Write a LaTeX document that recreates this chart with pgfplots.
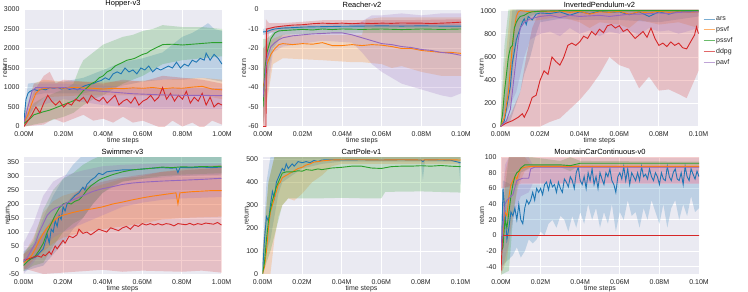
\documentclass[border=0pt]{standalone}
\usepackage{fontspec}
\setmainfont{Liberation Sans}
\usepackage{pgfplots}
\pgfplotsset{compat=1.18}
\usepgfplotslibrary{fillbetween}
\definecolor{cars}{HTML}{1F77B4}
\definecolor{cpsvf}{HTML}{FF7F0E}
\definecolor{cpssvf}{HTML}{2CA02C}
\definecolor{cddpg}{HTML}{D62728}
\definecolor{cpavf}{HTML}{9467BD}
\definecolor{bgc}{HTML}{EAEAF2}
\definecolor{txt}{HTML}{262626}
\newcommand{\band}[4]{%
  \addplot[draw=none, forget plot, name path=u#2] coordinates {#3};
  \addplot[draw=none, forget plot, name path=l#2] coordinates {#4};
  \addplot[fill=#1, fill opacity=0.22, draw=none, forget plot] fill between[of=u#2 and l#2];
}
\pgfplotsset{
  sb/.style={
    set layers,
    scale only axis, width=198pt, height=117pt, anchor=north west,
    axis background/.style={fill=bgc},
    axis line style={draw=none},
    tick style={draw=none},
    grid=major, major grid style={white, line width=0.9pt},
    tick label style={font=\fontsize{7}{8}\selectfont, text=txt},
    yticklabel style={xshift=-1pt},
    xticklabel style={yshift=-1.8pt},
    /pgf/number format/assume math mode=true,
    /pgf/number format/1000 sep={},
    every axis title/.style={font=\fontsize{7.5}{9}\selectfont, text=black, at={(axis description cs:0.5,1)}, anchor=south, inner sep=2pt},
    xlabel={time steps}, ylabel={return},
    label style={font=\fontsize{7}{8}\selectfont, text=txt},
    xlabel style={at={(axis description cs:0.5,0)}, anchor=north, inner sep=0pt, yshift=-11pt},
    ylabel style={at={(axis description cs:0,0.5)}, anchor=south, inner sep=0pt, yshift=16.5pt},
    clip=true,
  },
  big/.style={xmin=0, xmax=1, xtick={0,0.2,0.4,0.6,0.8,1}, xticklabels={0.00M,0.20M,0.40M,0.60M,0.80M,1.00M}},
  small/.style={xmin=0, xmax=0.1, xtick={0,0.02,0.04,0.06,0.08,0.1}, xticklabels={0.00M,0.02M,0.04M,0.06M,0.08M,0.10M}},
  ln/.style={line width=0.9pt, #1},
}
\begin{document}
\begin{tikzpicture}
%================ Hopper
\begin{axis}[sb, big, at={(24pt,-9.5pt)}, title={Hopper-v3}, ymin=0, ymax=3000, ytick={0,500,1000,1500,2000,2500,3000}]
\band{cars}{ha}{(0,300)(0.02,1100)(0.1,1150)(0.2,1150)(0.3,1250)(0.4,1450)(0.5,1650)(0.6,1750)(0.7,1900)(0.75,2100)(0.8,2300)(0.85,2400)(0.9,2550)(0.93,2650)(0.96,2500)(1.0,2450)}{(0,0)(0.02,500)(0.05,800)(0.1,850)(0.2,850)(0.3,850)(0.4,950)(0.5,1050)(0.6,1150)(0.7,1200)(0.8,1200)(0.9,1250)(1.0,1150)}
\band{cpsvf}{hb}{(0,300)(0.05,1100)(0.1,1200)(0.2,1150)(0.3,1150)(0.5,1150)(0.7,1200)(0.9,1250)(1.0,1200)}{(0,0)(0.05,500)(0.1,750)(0.3,800)(0.5,800)(0.7,780)(0.9,800)(1.0,700)}
\band{cpssvf}{hc}{(0,200)(0.05,600)(0.1,750)(0.2,950)(0.25,1100)(0.28,1500)(0.3,1700)(0.35,1900)(0.4,2100)(0.45,2200)(0.5,2300)(0.55,2350)(0.6,2450)(0.65,2500)(0.7,2600)(0.8,2550)(0.9,2550)(1.0,2500)}{(0,0)(0.1,100)(0.2,250)(0.25,350)(0.3,550)(0.35,700)(0.4,800)(0.5,1100)(0.6,1300)(0.7,1600)(0.8,1700)(0.9,1750)(1.0,1800)}
\band{cddpg}{hd}{(0,100)(0.05,900)(0.1,1300)(0.13,1400)(0.16,1100)(0.2,1200)(0.3,1150)(0.4,1100)(0.5,1200)(0.6,1150)(0.7,1300)(0.8,1250)(0.9,1200)(1.0,1100)}{(0,0)(0.1,50)(0.15,200)(0.2,100)(0.25,200)(0.3,300)(0.35,150)(0.4,200)(0.45,100)(0.5,250)(0.55,100)(0.6,150)(0.65,50)(0.7,-50)(0.75,150)(0.8,0)(0.85,100)(0.9,-50)(0.95,150)(1.0,50)}
\band{cpavf}{he}{(0,200)(0.05,1100)(0.2,1100)(0.4,1050)(0.6,1000)(0.8,1000)(1.0,1000)}{(0,0)(0.05,500)(0.2,700)(0.4,550)(0.6,450)(0.8,450)(1.0,450)}
\addplot[ln=cars] coordinates {(0,150)(0.01,700)(0.02,850)(0.03,900)(0.05,950)(0.07,920)(0.09,960)(0.11,940)(0.13,1000)(0.15,980)(0.17,1000)(0.19,960)(0.21,1000)(0.23,950)(0.25,980)(0.27,940)(0.29,1000)(0.31,1050)(0.33,1080)(0.35,1100)(0.37,1150)(0.39,1180)(0.41,1250)(0.43,1200)(0.45,1350)(0.47,1400)(0.49,1350)(0.51,1500)(0.53,1400)(0.55,1450)(0.57,1350)(0.59,1500)(0.61,1450)(0.63,1550)(0.65,1400)(0.67,1500)(0.69,1450)(0.71,1500)(0.73,1550)(0.75,1500)(0.77,1650)(0.79,1500)(0.81,1600)(0.83,1550)(0.85,1700)(0.87,1650)(0.89,1750)(0.91,1700)(0.92,1880)(0.94,1700)(0.96,1850)(0.98,1750)(1.0,1600)};
\addplot[ln=cpsvf] coordinates {(0,100)(0.02,300)(0.04,600)(0.06,850)(0.08,950)(0.1,970)(0.13,990)(0.16,1000)(0.2,980)(0.25,1000)(0.3,990)(0.35,980)(0.4,960)(0.45,980)(0.5,970)(0.55,990)(0.6,980)(0.65,1000)(0.7,970)(0.75,990)(0.8,980)(0.85,1010)(0.9,1030)(0.95,960)(1.0,940)};
\addplot[ln=cpssvf] coordinates {(0,80)(0.03,200)(0.05,300)(0.08,350)(0.1,380)(0.13,420)(0.15,460)(0.18,520)(0.2,560)(0.23,620)(0.26,680)(0.28,800)(0.3,920)(0.32,1000)(0.34,1100)(0.36,1150)(0.38,1250)(0.4,1300)(0.42,1400)(0.44,1450)(0.46,1550)(0.48,1600)(0.5,1650)(0.52,1700)(0.54,1720)(0.56,1750)(0.58,1800)(0.6,1850)(0.62,1880)(0.64,1950)(0.66,2000)(0.68,2050)(0.7,2100)(0.75,2110)(0.8,2090)(0.85,2110)(0.9,2130)(0.95,2150)(1.0,2150)};
\addplot[ln=cddpg] coordinates {(0,0)(0.02,150)(0.04,300)(0.06,500)(0.08,350)(0.1,600)(0.12,800)(0.14,650)(0.16,550)(0.18,650)(0.2,500)(0.22,600)(0.24,550)(0.26,700)(0.28,650)(0.3,750)(0.32,600)(0.34,800)(0.36,700)(0.38,650)(0.4,750)(0.42,600)(0.44,700)(0.46,800)(0.48,550)(0.5,650)(0.52,700)(0.54,600)(0.56,750)(0.58,550)(0.6,650)(0.62,700)(0.64,800)(0.66,650)(0.68,750)(0.7,1000)(0.72,700)(0.74,850)(0.76,650)(0.78,800)(0.8,700)(0.82,900)(0.84,600)(0.86,750)(0.88,650)(0.9,850)(0.92,550)(0.94,750)(0.96,500)(0.98,600)(1.0,550)};
\addplot[ln=cpavf] coordinates {(0,100)(0.02,500)(0.04,900)(0.06,1000)(0.1,1000)(0.15,990)(0.2,1000)(0.25,960)(0.3,950)(0.35,920)(0.4,900)(0.45,880)(0.5,860)(0.55,840)(0.6,830)(0.65,820)(0.7,810)(0.8,800)(0.9,800)(1.0,790)};
\end{axis}
%================ Reacher
\begin{axis}[sb, small, at={(263pt,-9.5pt)}, title={Reacher-v2}, ymin=-60, ymax=0, ytick={-60,-50,-40,-30,-20,-10,0}]
\band{cars}{ra}{(0,-10)(0.005,-9)(0.01,-8.3)(0.03,-7.6)(0.05,-7.3)(0.1,-7.3)}{(0,-13)(0.005,-12)(0.01,-10.8)(0.03,-10)(0.05,-9.7)(0.1,-9.7)}
\band{cpsvf}{rb}{(0,-20)(0.005,-15)(0.01,-13)(0.05,-13)(0.052,-5)(0.06,-4)(0.08,-4)(0.1,-4)}{(0,-60)(0.005,-28)(0.01,-25)(0.03,-26)(0.045,-27)(0.05,-27)(0.06,-28)(0.065,-30)(0.07,-29)(0.08,-32)(0.09,-34)(0.1,-34)}
\band{cpssvf}{rc}{(0,-15)(0.002,-15)(0.005,-12)(0.01,-9.5)(0.02,-9)(0.05,-8.5)(0.1,-8.5)}{(0,-60)(0.002,-35)(0.005,-20)(0.01,-13)(0.02,-12.5)(0.05,-12)(0.1,-12)}
\band{cddpg}{rd}{(0,-50)(0.0015,-5)(0.003,-7)(0.01,-7)(0.02,-6.3)(0.03,-5.5)(0.05,-5.5)(0.07,-5.5)(0.1,-5)}{(0,-60)(0.0015,-60)(0.003,-12)(0.01,-10)(0.02,-9.3)(0.03,-8.5)(0.05,-8.5)(0.07,-8.5)(0.1,-8)}
\band{cpavf}{re}{(0,-20)(0.005,-12)(0.01,-10)(0.03,-9)(0.045,-9)(0.05,-6)(0.055,-3)(0.06,-3)(0.07,-2)(0.08,-3)(0.09,-2)(0.1,-2)}{(0,-60)(0.005,-22)(0.01,-19)(0.03,-16)(0.045,-17)(0.05,-22)(0.055,-28)(0.06,-32)(0.07,-38)(0.08,-41)(0.09,-44)(0.095,-45)(0.1,-43)}
\addplot[ln=cars] coordinates {(0,-11.5)(0.002,-11.3)(0.004,-10.5)(0.006,-10)(0.01,-9.5)(0.015,-9.3)(0.02,-9)(0.03,-8.8)(0.04,-8.6)(0.05,-8.5)(0.06,-8.4)(0.07,-8.5)(0.08,-8.4)(0.09,-8.5)(0.1,-8.5)};
\addplot[ln=cpsvf] coordinates {(0,-40)(0.001,-35)(0.002,-28)(0.004,-23)(0.006,-20)(0.008,-18)(0.01,-17.5)(0.015,-18)(0.02,-17.5)(0.025,-17.8)(0.03,-17)(0.035,-18.5)(0.04,-18.5)(0.045,-18)(0.05,-18.5)(0.055,-18)(0.06,-18.3)(0.065,-19)(0.07,-20)(0.075,-20)(0.08,-21)(0.085,-21.5)(0.09,-22)(0.095,-22)(0.1,-22.5)};
\addplot[ln=cpssvf] coordinates {(0,-50)(0.001,-30)(0.002,-22)(0.004,-15)(0.006,-12)(0.008,-11)(0.01,-10.8)(0.015,-10.5)(0.02,-10.2)(0.025,-10.5)(0.03,-10)(0.035,-10.3)(0.04,-10)(0.05,-10.2)(0.06,-10)(0.07,-10.3)(0.08,-10)(0.09,-10.2)(0.1,-10)};
\addplot[ln=cddpg] coordinates {(0,-60)(0.0015,-60)(0.0018,-10)(0.004,-9.5)(0.006,-9)(0.01,-8.5)(0.015,-8)(0.02,-7.8)(0.025,-7.3)(0.03,-7)(0.035,-7.2)(0.04,-7)(0.045,-7.3)(0.05,-7)(0.055,-7.2)(0.06,-7)(0.065,-7.1)(0.07,-6.9)(0.075,-7)(0.08,-7)(0.085,-7.2)(0.09,-7)(0.095,-6.8)(0.1,-6.5)};
\addplot[ln=cpavf] coordinates {(0,-45)(0.001,-35)(0.002,-25)(0.004,-19)(0.006,-17)(0.008,-15.5)(0.01,-14.5)(0.015,-13.5)(0.02,-13)(0.025,-12.5)(0.03,-12.3)(0.035,-12)(0.04,-12)(0.045,-13)(0.05,-14.5)(0.055,-16)(0.06,-17.5)(0.065,-18)(0.07,-19)(0.075,-19.5)(0.08,-20.5)(0.085,-21)(0.09,-22)(0.095,-22.5)(0.1,-23.5)};
\end{axis}
%================ InvertedPendulum
\begin{axis}[sb, small, at={(500.5pt,-9.5pt)}, title={InvertedPendulum-v2}, ymin=0, ymax=1010, ytick={0,200,400,600,800,1000},
  legend style={at={(axis description cs:1,1)}, anchor=north west, xshift=4.5pt, yshift=-6pt, draw=none, fill=none, font=\fontsize{7}{8}\selectfont, text=txt, row sep=2.5pt, inner sep=0pt, nodes={inner sep=1pt}, /tikz/every even column/.append style={column sep=3pt}},
  legend cell align=left,
  legend image code/.code={\draw[#1, line width=1pt] (0pt,0pt) -- (11pt,0pt);}]
\band{cars}{ia}{(0,0)(0.002,300)(0.006,1010)(0.1,1010)}{(0,0)(0.005,50)(0.01,300)(0.012,450)(0.015,600)(0.018,800)(0.02,900)(0.03,930)(0.04,920)(0.06,920)(0.08,900)(0.1,950)}
\band{cpsvf}{ib}{(0,50)(0.002,500)(0.005,1010)(0.1,1010)}{(0,0)(0.005,200)(0.008,700)(0.01,900)(0.02,920)(0.03,950)(0.04,900)(0.045,850)(0.05,900)(0.06,880)(0.065,850)(0.07,920)(0.08,880)(0.09,900)(0.1,850)}
\band{cpssvf}{ic}{(0,100)(0.002,700)(0.004,1010)(0.1,1010)}{(0,0)(0.003,200)(0.005,400)(0.008,700)(0.01,850)(0.015,950)(0.02,990)(0.1,990)}
\band{cddpg}{id}{(0,0)(0.005,100)(0.01,300)(0.013,600)(0.016,850)(0.02,1010)(0.1,1010)}{(0,0)(0.02,0)(0.025,40)(0.03,70)(0.035,150)(0.04,230)(0.045,330)(0.05,450)(0.055,600)(0.06,530)(0.065,500)(0.07,330)(0.075,430)(0.08,310)(0.085,320)(0.09,280)(0.094,245)(0.1,480)}
\band{cpavf}{ie}{(0,0)(0.004,400)(0.008,1010)(0.1,1010)}{(0,0)(0.008,300)(0.012,600)(0.015,750)(0.02,800)(0.025,820)(0.03,780)(0.035,850)(0.04,800)(0.045,830)(0.05,780)(0.055,820)(0.06,800)(0.065,830)(0.07,790)(0.075,850)(0.08,820)(0.085,830)(0.09,800)(0.1,850)}
\addplot[ln=cars, forget plot] coordinates {(0,0)(0.002,50)(0.004,250)(0.005,350)(0.006,550)(0.007,650)(0.008,750)(0.009,800)(0.01,850)(0.011,900)(0.012,930)(0.013,880)(0.014,950)(0.016,920)(0.018,970)(0.02,980)(0.025,975)(0.03,990)(0.035,960)(0.04,990)(0.045,975)(0.05,995)(0.055,985)(0.06,990)(0.065,965)(0.07,990)(0.075,950)(0.08,990)(0.085,970)(0.09,995)(0.1,995)};
\addplot[ln=cpsvf, forget plot] coordinates {(0,0)(0.002,80)(0.004,300)(0.005,500)(0.006,700)(0.007,850)(0.008,950)(0.009,990)(0.01,1000)(0.015,990)(0.02,995)(0.025,990)(0.03,998)(0.035,985)(0.04,995)(0.045,970)(0.05,990)(0.055,985)(0.06,995)(0.065,970)(0.07,990)(0.075,980)(0.08,995)(0.085,985)(0.09,990)(0.095,985)(0.1,990)};
\addplot[ln=cpssvf, forget plot] coordinates {(0,0)(0.001,100)(0.002,300)(0.003,450)(0.004,600)(0.005,680)(0.006,700)(0.007,850)(0.008,900)(0.009,930)(0.01,950)(0.012,960)(0.014,980)(0.016,990)(0.02,995)(0.03,1000)(0.1,1000)};
\addplot[ln=cddpg, forget plot] coordinates {(0,0)(0.003,30)(0.006,50)(0.009,80)(0.011,110)(0.012,80)(0.014,150)(0.016,250)(0.018,270)(0.02,400)(0.022,480)(0.024,450)(0.026,600)(0.028,560)(0.03,530)(0.032,600)(0.034,700)(0.036,720)(0.038,700)(0.04,730)(0.042,780)(0.044,760)(0.046,820)(0.048,790)(0.05,840)(0.052,810)(0.054,870)(0.056,880)(0.058,850)(0.06,870)(0.062,820)(0.064,840)(0.066,800)(0.068,760)(0.07,790)(0.072,820)(0.074,770)(0.076,850)(0.078,760)(0.08,700)(0.082,720)(0.084,690)(0.086,730)(0.088,700)(0.09,720)(0.092,680)(0.094,670)(0.096,730)(0.098,790)(0.099,860)(0.1,800)};
\addplot[ln=cpavf, forget plot] coordinates {(0,0)(0.003,50)(0.005,150)(0.006,300)(0.007,450)(0.008,600)(0.009,750)(0.01,850)(0.012,900)(0.015,930)(0.02,950)(0.025,960)(0.03,940)(0.035,960)(0.04,950)(0.045,955)(0.05,960)(0.055,950)(0.06,960)(0.065,970)(0.07,970)(0.075,975)(0.08,980)(0.085,975)(0.09,985)(0.1,990)};
\addlegendimage{cars!60!white}\addlegendentry{ars}
\addlegendimage{cpsvf!60!white}\addlegendentry{psvf}
\addlegendimage{cpssvf!70!white}\addlegendentry{pssvf}
\addlegendimage{cddpg!70!white}\addlegendentry{ddpg}
\addlegendimage{cpavf!60!white}\addlegendentry{pavf}
\end{axis}
%================ Swimmer
\begin{axis}[sb, big, at={(23.5pt,-157pt)}, title={Swimmer-v3}, ymin=-50, ymax=368, ytick={-50,0,50,100,150,200,250,300,350}, ylabel style={yshift=-3pt}]
\band{cars}{sa}{(0,30)(0.05,60)(0.1,150)(0.15,230)(0.2,290)(0.25,340)(0.3,375)(1.0,380)}{(0,-40)(0.05,-30)(0.1,-20)(0.15,20)(0.2,60)(0.25,110)(0.3,150)(0.35,200)(0.4,240)(0.5,280)(0.6,290)(0.7,295)(0.8,300)(1.0,305)}
\band{cpsvf}{sb}{(0,20)(0.05,80)(0.1,170)(0.15,210)(0.2,230)(0.3,250)(0.4,270)(0.5,290)(0.6,300)(0.7,315)(0.8,325)(0.9,335)(1.0,340)}{(0,-40)(0.05,0)(0.1,30)(0.15,60)(0.2,80)(0.3,100)(0.4,110)(0.5,120)(0.6,130)(0.7,145)(0.8,150)(1.0,155)}
\band{cpssvf}{sc}{(0,20)(0.05,70)(0.1,180)(0.15,250)(0.2,290)(0.25,310)(0.3,340)(0.35,360)(0.4,375)(1.0,380)}{(0,-40)(0.05,-20)(0.1,-10)(0.15,50)(0.2,100)(0.25,130)(0.3,150)(0.35,200)(0.4,240)(0.45,265)(0.5,280)(0.6,290)(0.7,300)(0.8,305)(1.0,310)}
\band{cddpg}{sd}{(0,20)(0.05,50)(0.1,100)(0.15,150)(0.2,190)(0.25,230)(0.3,260)(0.4,280)(0.5,295)(0.6,305)(0.7,315)(0.8,320)(1.0,330)}{(0,-30)(0.05,-40)(0.1,-50)(0.2,-45)(0.3,-40)(0.4,-35)(0.5,-42)(0.6,-38)(0.7,-40)(0.8,-42)(0.9,-38)(1.0,-45)}
\band{cpavf}{se}{(0,60)(0.05,130)(0.1,230)(0.15,280)(0.2,300)(0.3,320)(0.4,335)(0.5,340)(0.7,345)(1.0,345)}{(0,-50)(0.05,-10)(0.1,40)(0.15,80)(0.2,100)(0.3,130)(0.4,160)(0.5,190)(0.6,205)(0.7,215)(0.8,220)(1.0,225)}
\addplot[ln=cars] coordinates {(0,-5)(0.02,0)(0.04,5)(0.06,10)(0.08,25)(0.1,40)(0.12,90)(0.13,60)(0.14,110)(0.15,100)(0.16,140)(0.17,120)(0.18,160)(0.19,145)(0.2,190)(0.21,175)(0.22,200)(0.24,215)(0.26,230)(0.28,240)(0.3,260)(0.31,250)(0.32,270)(0.34,285)(0.36,295)(0.38,310)(0.4,305)(0.42,315)(0.45,318)(0.5,322)(0.55,322)(0.6,325)(0.65,328)(0.7,330)(0.75,328)(0.77,330)(0.78,312)(0.79,330)(0.85,330)(0.9,332)(0.95,330)(1.0,332)};
\addplot[ln=cpsvf] coordinates {(0,-10)(0.02,0)(0.04,15)(0.06,40)(0.08,70)(0.1,95)(0.12,115)(0.14,130)(0.16,145)(0.18,155)(0.2,160)(0.25,170)(0.3,178)(0.35,183)(0.4,190)(0.45,200)(0.5,207)(0.55,215)(0.6,222)(0.65,228)(0.7,233)(0.75,238)(0.77,240)(0.78,200)(0.79,240)(0.85,244)(0.9,246)(0.95,248)(1.0,248)};
\addplot[ln=cpssvf] coordinates {(0,-20)(0.02,-5)(0.04,5)(0.06,15)(0.08,35)(0.1,60)(0.12,100)(0.14,130)(0.16,160)(0.18,185)(0.2,200)(0.22,205)(0.24,200)(0.26,210)(0.28,215)(0.3,230)(0.32,250)(0.34,265)(0.36,275)(0.38,285)(0.4,292)(0.45,305)(0.5,315)(0.55,322)(0.6,325)(0.65,328)(0.7,332)(0.75,330)(0.8,333)(0.85,332)(0.9,334)(0.95,333)(1.0,335)};
\addplot[ln=cddpg] coordinates {(0,0)(0.03,5)(0.05,10)(0.07,15)(0.09,10)(0.1,20)(0.11,15)(0.13,30)(0.14,20)(0.16,50)(0.17,40)(0.19,60)(0.2,70)(0.21,60)(0.23,85)(0.25,80)(0.27,90)(0.28,110)(0.3,95)(0.32,100)(0.34,90)(0.36,100)(0.38,110)(0.4,105)(0.42,100)(0.44,115)(0.46,110)(0.48,105)(0.5,115)(0.52,120)(0.54,110)(0.56,125)(0.58,120)(0.6,130)(0.62,125)(0.64,130)(0.66,125)(0.68,130)(0.7,125)(0.72,130)(0.74,128)(0.76,122)(0.78,130)(0.8,128)(0.82,126)(0.84,131)(0.86,125)(0.88,130)(0.9,127)(0.92,132)(0.94,130)(0.96,128)(0.98,134)(1.0,125)};
\addplot[ln=cpavf] coordinates {(0,-5)(0.02,10)(0.04,35)(0.06,60)(0.08,100)(0.1,130)(0.12,160)(0.14,175)(0.16,185)(0.18,190)(0.2,198)(0.25,215)(0.3,230)(0.35,245)(0.4,255)(0.45,262)(0.5,270)(0.55,275)(0.6,278)(0.65,280)(0.7,282)(0.8,285)(0.9,288)(1.0,292)};
\end{axis}
%================ CartPole
\begin{axis}[sb, small, at={(262.5pt,-157pt)}, title={CartPole-v1}, ymin=0, ymax=510, ytick={0,100,200,300,400,500}, ylabel style={yshift=-3pt}]
\band{cars}{ca}{(0,50)(0.002,400)(0.004,510)(0.1,510)}{(0,0)(0.002,100)(0.004,150)(0.006,250)(0.008,350)(0.01,400)(0.015,430)(0.02,460)(0.03,480)(0.04,490)(0.08,490)(0.081,410)(0.082,490)(0.099,490)(0.1,390)}
\band{cpsvf}{cb}{(0,100)(0.003,400)(0.006,510)(0.1,510)}{(0,0)(0.004,0)(0.006,150)(0.008,250)(0.01,300)(0.013,330)(0.016,320)(0.02,350)(0.025,400)(0.03,430)(0.035,470)(0.04,480)(0.1,480)}
\band{cpssvf}{cc}{(0,80)(0.003,400)(0.006,510)(0.1,510)}{(0,0)(0.004,100)(0.007,200)(0.01,300)(0.013,330)(0.02,330)(0.025,330)(0.03,330)(0.04,332)(0.05,330)(0.06,330)(0.062,358)(0.08,360)(0.1,355)}
\addplot[ln=cars] coordinates {(0,0)(0.001,150)(0.002,250)(0.003,230)(0.004,300)(0.005,360)(0.006,330)(0.007,400)(0.008,420)(0.009,440)(0.01,460)(0.011,450)(0.012,480)(0.013,460)(0.014,470)(0.015,480)(0.016,470)(0.018,490)(0.02,485)(0.022,490)(0.024,485)(0.026,495)(0.028,490)(0.03,497)(0.035,498)(0.04,497)(0.05,498)(0.06,497)(0.07,498)(0.08,497)(0.081,490)(0.082,498)(0.09,497)(0.095,496)(0.1,485)};
\addplot[ln=cpsvf] coordinates {(0,0)(0.001,30)(0.002,100)(0.003,200)(0.004,270)(0.005,300)(0.006,330)(0.007,360)(0.008,390)(0.009,400)(0.01,420)(0.012,430)(0.014,440)(0.016,450)(0.018,460)(0.02,465)(0.022,475)(0.024,480)(0.026,488)(0.028,490)(0.03,493)(0.035,497)(0.04,498)(0.05,498)(0.06,497)(0.07,498)(0.08,497)(0.09,498)(0.1,497)};
\addplot[ln=cpssvf] coordinates {(0,0)(0.001,50)(0.002,150)(0.003,230)(0.004,280)(0.005,320)(0.006,350)(0.007,380)(0.008,400)(0.009,420)(0.01,440)(0.012,445)(0.015,445)(0.018,450)(0.02,448)(0.022,455)(0.025,452)(0.028,458)(0.03,455)(0.035,462)(0.04,465)(0.045,470)(0.05,470)(0.055,462)(0.06,460)(0.065,468)(0.07,470)(0.075,470)(0.08,472)(0.085,470)(0.09,473)(0.095,470)(0.1,468)};
\end{axis}
%================ MountainCar
\begin{axis}[sb, small, at={(501pt,-157pt)}, title={MountainCarContinuous-v0}, ymin=-49, ymax=100, ytick={-40,-20,0,20,40,60,80,100}]
\band{cars}{ma}{(0,10)(0.001,70)(0.005,65)(0.1,66)}{(0,-40)(0.002,-35)(0.004,-30)(0.006,-25)(0.008,-15)(0.01,-28)(0.012,-20)(0.014,-5)(0.016,-10)(0.018,-5)(0.02,5)(0.022,0)(0.024,15)(0.026,20)(0.028,10)(0.03,25)(0.032,20)(0.034,5)(0.036,25)(0.038,10)(0.04,30)(0.042,15)(0.044,40)(0.046,20)(0.048,35)(0.05,10)(0.052,30)(0.054,15)(0.056,40)(0.058,5)(0.06,30)(0.062,20)(0.064,45)(0.066,25)(0.068,30)(0.07,10)(0.072,35)(0.074,20)(0.076,45)(0.078,30)(0.08,15)(0.082,40)(0.084,10)(0.086,35)(0.088,45)(0.09,20)(0.092,40)(0.094,25)(0.096,50)(0.098,30)(0.1,35)}
\band{cpsvf}{mb}{(0,0)(0.002,80)(0.004,100)(0.012,100)(0.015,90)(0.1,90)}{(0,-50)(0.003,-30)(0.006,30)(0.009,65)(0.012,82)(0.015,86)(0.1,86)}
\band{cpssvf}{mc}{(0,-10)(0.002,60)(0.004,100)(0.015,100)(0.03,95)(0.035,100)(0.04,95)(0.1,94)}{(0,-50)(0.004,-45)(0.006,20)(0.008,60)(0.01,80)(0.015,87)(0.03,87)(0.035,82)(0.04,90)(0.1,90)}
\band{cddpg}{md}{(0,100)(0.1,100)}{(0,60)(0.01,66)(0.1,66)}
\band{cpavf}{me}{(0,10)(0.002,90)(0.004,100)(0.014,100)(0.016,90)(0.1,89)}{(0,-50)(0.004,-10)(0.007,30)(0.01,50)(0.014,55)(0.016,66)(0.1,66)}
\addplot[ln=cars] coordinates {(0,-20)(0.0005,0)(0.001,60)(0.002,30)(0.003,-5)(0.004,10)(0.005,30)(0.006,25)(0.007,35)(0.008,20)(0.009,40)(0.01,20)(0.011,15)(0.012,35)(0.013,45)(0.014,40)(0.015,45)(0.016,55)(0.017,45)(0.018,60)(0.019,55)(0.02,60)(0.021,52)(0.022,65)(0.023,68)(0.024,58)(0.025,70)(0.026,62)(0.027,65)(0.028,55)(0.029,68)(0.03,60)(0.031,55)(0.032,72)(0.033,68)(0.034,62)(0.035,75)(0.036,70)(0.037,60)(0.038,80)(0.039,87)(0.04,70)(0.041,65)(0.042,75)(0.043,60)(0.044,80)(0.045,70)(0.046,85)(0.047,65)(0.048,75)(0.049,60)(0.05,80)(0.051,72)(0.052,65)(0.053,80)(0.054,75)(0.055,85)(0.056,70)(0.057,65)(0.058,55)(0.059,75)(0.06,80)(0.061,72)(0.062,88)(0.063,70)(0.064,85)(0.065,65)(0.066,80)(0.067,75)(0.068,70)(0.069,80)(0.07,70)(0.071,88)(0.072,75)(0.073,78)(0.074,72)(0.075,85)(0.076,75)(0.077,70)(0.078,80)(0.079,75)(0.08,65)(0.081,80)(0.082,72)(0.083,70)(0.084,88)(0.085,75)(0.086,70)(0.087,80)(0.088,85)(0.089,72)(0.09,70)(0.091,80)(0.092,65)(0.093,88)(0.094,75)(0.095,70)(0.096,85)(0.097,78)(0.098,72)(0.099,82)(0.1,75)};
\addplot[ln=cpsvf] coordinates {(0,-20)(0.001,0)(0.002,30)(0.003,25)(0.004,50)(0.005,65)(0.006,70)(0.007,75)(0.008,72)(0.009,80)(0.01,85)(0.012,87)(0.015,88)(0.1,88)};
\addplot[ln=cpssvf] coordinates {(0,-20)(0.001,-15)(0.002,20)(0.003,10)(0.004,30)(0.005,50)(0.006,65)(0.007,75)(0.008,80)(0.009,82)(0.01,86)(0.012,90)(0.015,90)(0.02,90)(0.03,90)(0.035,89)(0.04,92)(0.06,92)(0.08,92)(0.1,92)};
\addplot[ln=cddpg] coordinates {(0,-45)(0.0008,0)(0.1,0)};
\addplot[ln=cpavf] coordinates {(0,-20)(0.001,10)(0.002,40)(0.003,45)(0.005,50)(0.006,52)(0.008,70)(0.011,73)(0.014,73)(0.015,85)(0.017,87)(0.1,87)};
\end{axis}
\pgfresetboundingbox
\useasboundingbox (0pt,0pt) rectangle (748pt,-292pt);
\end{tikzpicture}
\end{document}
